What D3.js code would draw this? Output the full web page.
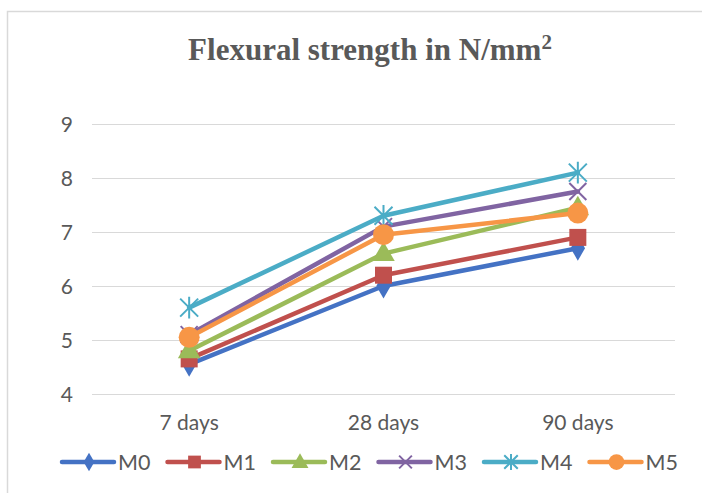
<!DOCTYPE html>
<html><head><meta charset="utf-8">
<script src="https://cdn.jsdelivr.net/npm/d3@7"></script>
<style>html,body{margin:0;padding:0;background:#fff;}</style>
</head><body>
<svg id="chart" width="702" height="493"></svg>
<script>
const categories = ["7 days", "28 days", "90 days"];
const seriesNames = ["M0", "M1", "M2", "M3", "M4", "M5"];
const M0 = [4.55, 6.0, 6.7];
const M1 = [4.65, 6.2, 6.9];
const M2 = [4.8, 6.6, 7.45];
const M3 = [5.1, 7.1, 7.75];
const M4 = [5.6, 7.3, 8.1];
const M5 = [5.05, 6.95, 7.35];
const yTicks = [4, 5, 6, 7, 8, 9];
const colors = ["#4472C4", "#C0504D", "#9BBB59", "#8064A2", "#4BACC6", "#F79646"];
const markers = ["diamond", "square", "triangle", "x", "asterisk", "circle"];
const title = "Flexural strength in N/mm";

const data = [M0, M1, M2, M3, M4, M5];
const svg = d3.select("#chart");
const sansFont = "Lato, 'Open Sans', sans-serif";

// frame
svg.append("rect").attr("x", 7.5).attr("y", 11.5).attr("width", 720).attr("height", 500)
  .attr("fill", "#fff").attr("stroke", "#d9d9d9").attr("stroke-width", 1.5);

const plotLeft = 92, plotRight = 675, plotTop = 124, plotBottom = 394;
const x = d3.scaleBand().domain(categories).range([plotLeft, plotRight]);
const y = d3.scaleLinear().domain([4, 9]).range([plotBottom, plotTop]);

// gridlines
svg.append("g").selectAll("line").data(yTicks).join("line")
  .attr("x1", plotLeft).attr("x2", plotRight)
  .attr("y1", d => Math.round(y(d)) + 0.5).attr("y2", d => Math.round(y(d)) + 0.5)
  .attr("stroke", "#d9d9d9").attr("stroke-width", 1);

// y axis labels
const yAxis = d3.axisLeft(y).tickValues(yTicks).tickFormat(d3.format("d")).tickSize(0).tickPadding(0);
const ya = svg.append("g").attr("transform", `translate(${plotLeft - 19},0)`).call(yAxis);
ya.select(".domain").remove();
ya.selectAll("text").attr("font-family", sansFont).attr("font-size", 21)
  .attr("fill", "#595959").attr("dy", "0.35em");

// x axis labels
const xAxis = d3.axisBottom(x).tickSize(0).tickPadding(0);
const xa = svg.append("g").attr("transform", `translate(0,${plotBottom + 36})`).call(xAxis);
xa.select(".domain").remove();
xa.selectAll("text").attr("font-family", sansFont).attr("font-size", 21)
  .attr("fill", "#595959").attr("dy", "0");

// title
const t = svg.append("text").attr("x", 370).attr("y", 60).attr("text-anchor", "middle")
  .attr("font-family", "'Liberation Serif', 'Times New Roman', serif").attr("font-weight", "bold")
  .attr("font-size", 31).attr("fill", "#595959");
t.append("tspan").text(title);
t.append("tspan").text("2").attr("font-size", 21).attr("dy", -11);

function drawMarker(g, type, color, cx, cy, scale) {
  const s = scale || 1;
  if (type === "diamond") {
    g.append("path").attr("d", d3.symbol(d3.symbolDiamond, 180 * s * s)()).attr("transform", `translate(${cx},${cy})`).attr("fill", color);
  } else if (type === "square") {
    const w = 17 * s;
    g.append("rect").attr("x", cx - w / 2).attr("y", cy - w / 2).attr("width", w).attr("height", w).attr("fill", color);
  } else if (type === "triangle") {
    g.append("path").attr("d", d3.symbol(d3.symbolTriangle, 220 * s * s)()).attr("transform", `translate(${cx},${cy + 1})`).attr("fill", color);
  } else if (type === "x") {
    const r = 8.5 * s;
    g.append("path").attr("d", `M${cx - r},${cy - r}L${cx + r},${cy + r}M${cx - r},${cy + r}L${cx + r},${cy - r}`)
      .attr("stroke", color).attr("stroke-width", 2).attr("fill", "none");
  } else if (type === "asterisk") {
    const r = 9 * s;
    g.append("path").attr("d", `M${cx - r},${cy - r}L${cx + r},${cy + r}M${cx - r},${cy + r}L${cx + r},${cy - r}M${cx},${cy - r * 1.2}L${cx},${cy + r * 1.2}`)
      .attr("stroke", color).attr("stroke-width", 2).attr("fill", "none");
  } else if (type === "circle") {
    g.append("circle").attr("cx", cx).attr("cy", cy).attr("r", 10.5 * s).attr("fill", color);
  }
}

const line = d3.line().x((d, i) => x(categories[i]) + x.bandwidth() / 2).y(d => y(d));

data.forEach((vals, si) => {
  const g = svg.append("g");
  g.append("path").datum(vals).attr("d", line).attr("fill", "none")
    .attr("stroke", colors[si]).attr("stroke-width", 4.5).attr("stroke-linejoin", "round").attr("stroke-linecap", "round");
  vals.forEach((v, i) => drawMarker(g, markers[si], colors[si], x(categories[i]) + x.bandwidth() / 2, y(v), 1));
});

// legend
const legendX0 = 60, legendStep = 105.5, legendY = 462;
seriesNames.forEach((name, si) => {
  const g = svg.append("g");
  const lx = legendX0 + si * legendStep;
  g.append("line").attr("x1", lx + 2).attr("x2", lx + 54).attr("y1", legendY).attr("y2", legendY)
    .attr("stroke", colors[si]).attr("stroke-width", 4.5).attr("stroke-linecap", "round");
  drawMarker(g, markers[si], colors[si], lx + 29, legendY, 0.75);
  g.append("text").attr("x", lx + 58).attr("y", legendY + 8).text(name)
    .attr("font-family", sansFont).attr("font-size", 21.5).attr("fill", "#595959");
});
</script>
</body></html>
